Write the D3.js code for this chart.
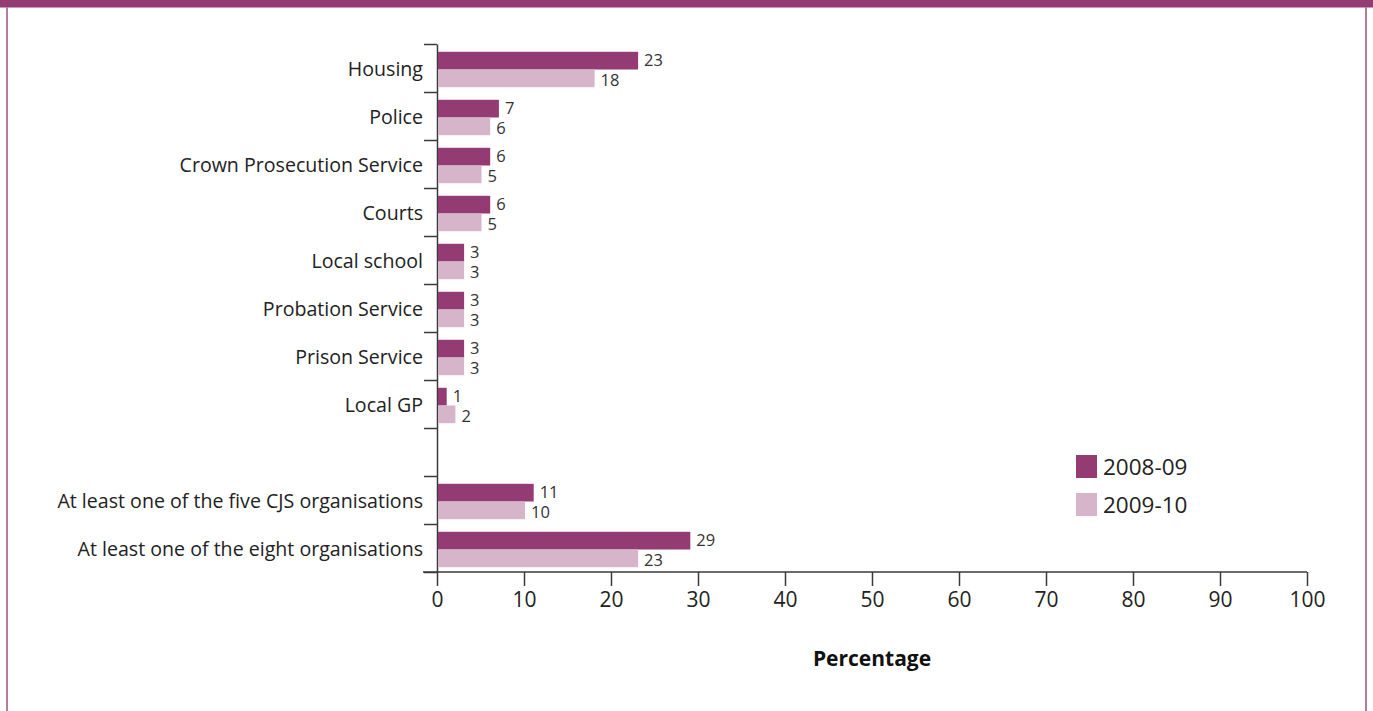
<!DOCTYPE html>
<html>
<head>
<meta charset="utf-8">
<script src="https://cdn.jsdelivr.net/npm/d3@7"></script>
<style>
  body { margin: 0; background: #fff; }
  svg { display: block; font-family: "Open Sans", "Noto Sans", sans-serif; }
</style>
</head>
<body>
<div id="chart"></div>
<script>
// categories, top to bottom; '' is the empty spacer row
const categories = ['Housing', 'Police', 'Crown Prosecution Service', 'Courts',
  'Local school', 'Probation Service', 'Prison Service', 'Local GP', '',
  'At least one of the five CJS organisations',
  'At least one of the eight organisations'];
const series = ['2008-09', '2009-10'];
const values0809 = [23, 7, 6, 6, 3, 3, 3, 1, null, 11, 29];
const values0910 = [18, 6, 5, 5, 3, 3, 3, 2, null, 10, 23];
const xTicks = [0, 10, 20, 30, 40, 50, 60, 70, 80, 90, 100];

const colors = ['#943b74', '#d6b4ca'];
const W = 1373, H = 711;

let svg = d3.select('#chart').append('svg')
  .attr('width', W).attr('height', H);

// frame
svg.append('rect').attr('x', 0).attr('y', 0).attr('width', W).attr('height', 7)
  .style('fill', '#943b74');
svg.append('line').attr('x1', 0).attr('x2', W).attr('y1', 7.5).attr('y2', 7.5)
  .style('stroke', '#c99bb9').style('stroke-width', 1);
svg.append('rect').attr('x', 6).attr('y', 7).attr('width', 2).attr('height', H)
  .style('fill', '#b77aa3');
svg.append('rect').attr('x', 1365).attr('y', 7).attr('width', 2).attr('height', H)
  .style('fill', '#b77aa3');

const x = d3.scaleLinear().domain([0, 100]).range([437, 1307]);
const y = d3.scaleBand().domain(categories.map((c, i) => i)).range([44, 572]);
const yIdx = d3.scaleLinear().domain([0, categories.length]).range([44, 572]);

// y axis with ticks at the band edges
let yAxis = svg.append('g').attr('transform', 'translate(437,0)')
  .call(d3.axisLeft(yIdx).tickValues(d3.range(categories.length + 1))
    .tickFormat('').tickSize(13).tickSizeOuter(0));
yAxis.selectAll('path, line').style('stroke', '#3a3a3a').style('stroke-width', 1.5);

// category labels
svg.append('g').selectAll('text.cat')
  .data(categories)
  .enter()
  .append('text')
  .attr('class', 'cat')
  .attr('x', 423)
  .attr('y', (d, i) => y(i) + y.bandwidth() / 2 + 7.5)
  .attr('text-anchor', 'end')
  .style('font-size', '19.6px')
  .style('fill', '#222')
  .text(d => d);

// x axis
let xAxis = svg.append('g').attr('transform', 'translate(0,572)')
  .call(d3.axisBottom(x).tickValues(xTicks).tickSize(14).tickSizeOuter(0));
xAxis.select('.domain').remove();
xAxis.append('line').attr('x1', 423).attr('x2', 1307).attr('y1', 0).attr('y2', 0)
  .style('stroke', '#3a3a3a').style('stroke-width', 1.5);
xAxis.selectAll('line').style('stroke', '#3a3a3a').style('stroke-width', 1.5);
xAxis.selectAll('text')
  .attr('y', 20)
  .attr('dy', '0.71em')
  .style('font-size', '21px')
  .style('fill', '#222')
  .style('font-family', '"Open Sans", sans-serif');

svg.append('text')
  .attr('x', 872).attr('y', 666)
  .attr('text-anchor', 'middle')
  .style('font-size', '21px')
  .style('font-weight', 'bold')
  .style('fill', '#111')
  .text('Percentage');

// bars
const barH = 17.7;
const allValues = [values0809, values0910];
allValues.forEach(function(vals, s) {
  let g = svg.append('g');
  let rows = vals.map((v, i) => ({v: v, i: i})).filter(d => d.v !== null);
  g.selectAll('rect')
    .data(rows)
    .enter()
    .append('rect')
    .attr('x', x(0) + 1)
    .attr('y', d => y(d.i) + y.bandwidth() / 2 - barH + 1.5 + s * barH)
    .attr('width', d => x(d.v) - x(0))
    .attr('height', barH)
    .style('fill', colors[s]);
  g.selectAll('text')
    .data(rows)
    .enter()
    .append('text')
    .attr('x', d => x(d.v) + 7)
    .attr('y', d => y(d.i) + y.bandwidth() / 2 + 1.5 + s * barH - (s ? 1.5 : 3.5))
    .style('font-size', '16.5px')
    .style('fill', '#333')
    .text(d => d.v);
});

// legend
let legend = svg.append('g');
series.forEach(function(name, s) {
  legend.append('rect')
    .attr('x', 1076).attr('y', 455 + s * 38)
    .attr('width', 21).attr('height', 23)
    .style('fill', colors[s]);
  legend.append('text')
    .attr('x', 1103).attr('y', 475 + s * 38)
    .style('font-size', '22.5px')
    .style('fill', '#222')
    .text(name);
});
</script>
</body>
</html>
